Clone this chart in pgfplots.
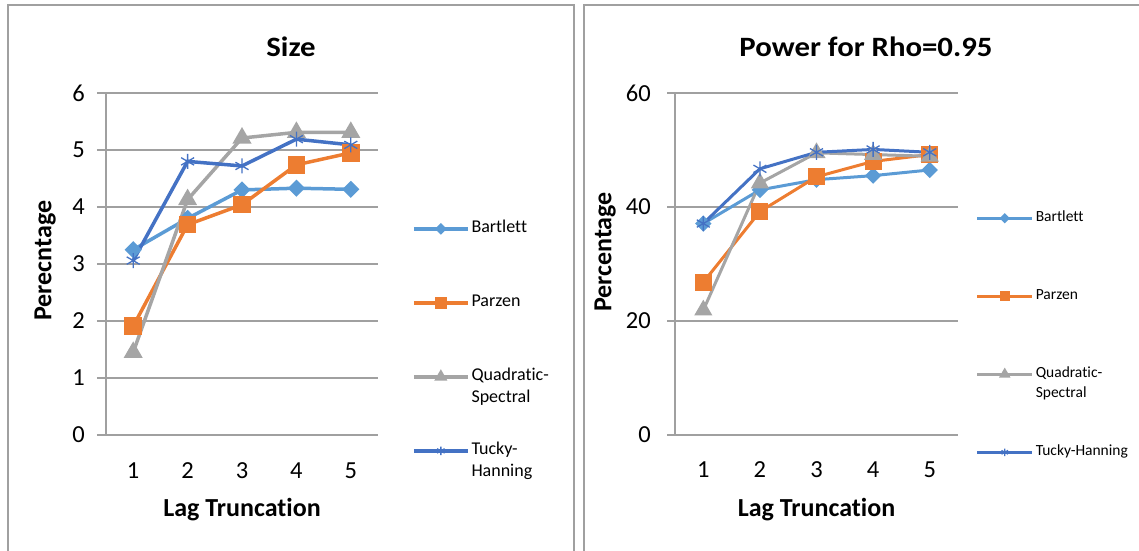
\documentclass[border=0pt]{standalone}
\usepackage{fontspec}
\setmainfont{Carlito}[Ligatures=NoCommon]
\newfontfamily\titlefont{Carlito}[Ligatures=NoCommon, FakeStretch=1.1]
\usepackage{pgfplots}
\usepackage{pgfplotstable}
\pgfplotsset{compat=1.18}
\definecolor{cB}{HTML}{5B9BD5}
\definecolor{cP}{HTML}{ED7D31}
\definecolor{cQ}{HTML}{A5A5A5}
\definecolor{cT}{HTML}{4472C4}
\definecolor{gridc}{HTML}{A0A0A0}
\definecolor{boxc}{HTML}{A0A0A0}

\pgfplotstableread{
x B P Q T
1 3.25 1.91 1.45 3.06
2 3.80 3.69 4.13 4.80
3 4.30 4.04 5.21 4.72
4 4.33 4.74 5.31 5.19
5 4.31 4.95 5.31 5.09
}\sizedata
\pgfplotstableread{
x B P Q T
1 37.1 26.8 21.9 37.1
2 43.0 39.2 44.2 46.7
3 44.8 45.3 49.5 49.6
4 45.5 48.0 49.2 50.1
5 46.5 49.2 48.9 49.6
}\powerdata

\pgfplotsset{
 excel/.style={
  scale only axis, xmin=0.5, xmax=5.5, ymin=0,
  axis x line=bottom, axis y line=left,
  axis line style={-, draw=gridc, line width=1.3pt},
  ymajorgrids, grid style={draw=gridc, line width=1.3pt},
  xtick={1,...,5}, xtick style={draw=none},
  ytick style={draw=gridc, line width=1.3pt},
  tick align=outside, major tick length=9pt,
  /pgf/number format/assume math mode=true,
  tick label style={font=\fontsize{24.5}{29}\selectfont},
  xticklabel style={anchor=center, yshift=-27pt},
  yticklabel style={anchor=east, inner sep=0pt},
  label style={font=\bfseries\fontsize{26}{31}\selectfont},
  legend cell align=left,
  legend style={draw=none, fill=none, inner sep=0pt, column sep=0pt},
 },
 sB/.style={cB, mark=square*, mark size=4.3pt, mark options={solid, fill=cB, rotate=45}},
 sP/.style={cP, mark=square*, mark size=7pt, mark options={solid, fill=cP}},
 sQ/.style={cQ, mark=triangle*, mark size=7.5pt, mark options={solid, fill=cQ}},
 sT/.style={cT, mark=asterisk, mark size=7.5pt, mark options={solid, line width=1.3pt}},
}

\begin{document}
\begin{tikzpicture}[x=1pt,y=1pt]
\path[use as bounding box] (0,0) rectangle (1139,550);
\draw[boxc, line width=1.3pt] (8,-20) -- (8,545) -- (574,545) -- (574,-20);
\draw[boxc, line width=1.3pt] (584,-20) -- (584,545) -- (1160,545);
\node[font=\titlefont\bfseries\fontsize{28}{33}\selectfont] at (291,503) {Size};
\node[font=\titlefont\bfseries\fontsize{28}{33}\selectfont] at (866,503) {Power for Rho=0.95};

\begin{axis}[excel,
  at={(106pt,115pt)}, anchor=south west, width=272pt, height=342pt,
  ymax=6, ytick={0,...,6},
  yticklabel style={xshift=-12pt},
  xlabel={Lag Truncation}, ylabel={Perecntage},
  xlabel style={at={(axis description cs:0.5,-0.219)}, anchor=center},
  ylabel style={at={(axis description cs:-0.224,0.51)}, anchor=center, rotate=0},
  every axis plot/.append style={line width=3.5pt},
  legend image code/.code={\draw[mark repeat=2, mark phase=2, #1, line width=3.3pt, /tikz/every mark/.append style={scale=0.58}] plot coordinates {(0pt,0pt) (27pt,0pt) (54pt,0pt)};},
  legend style={at={(axis description cs:1.125,0.634)}, anchor=north west, row sep=53pt,
    font=\fontsize{18}{22}\selectfont,
    nodes={inner sep=2pt, text height=12pt, text depth=5pt}},
]
\addplot[sB] table[x=x,y=B] {\sizedata};
\addplot[sP] table[x=x,y=P] {\sizedata};
\addplot[sQ] table[x=x,y=Q] {\sizedata};
\addplot[sT] table[x=x,y=T] {\sizedata};
\legend{Bartlett, Parzen, {\begin{tabular}[t]{@{}l@{}}Quadratic-\\Spectral\end{tabular}}, {\begin{tabular}[t]{@{}l@{}}Tucky-\\Hanning\end{tabular}}}
\end{axis}

\begin{axis}[excel,
  at={(675pt,115pt)}, anchor=south west, width=283pt, height=342pt,
  ymax=60, ytick={0,20,40,60}, major tick length=8pt,
  yticklabel style={xshift=-16pt},
  xlabel={Lag Truncation}, ylabel={Percentage},
  xlabel style={at={(axis description cs:0.5,-0.219)}, anchor=center},
  ylabel style={at={(axis description cs:-0.247,0.535)}, anchor=center, rotate=0},
  every axis plot/.append style={line width=3pt},
  legend image code/.code={\draw[mark repeat=2, mark phase=2, #1, line width=3pt, /tikz/every mark/.append style={scale=0.5}] plot coordinates {(0pt,0pt) (27.5pt,0pt) (55pt,0pt)};},
  legend style={at={(axis description cs:1.062,0.662)}, anchor=north west, row sep=59pt,
    font=\fontsize{15.5}{19.5}\selectfont,
    nodes={inner sep=2pt, text height=11pt, text depth=4pt}},
]
\addplot[sB] table[x=x,y=B] {\powerdata};
\addplot[sP] table[x=x,y=P] {\powerdata};
\addplot[sQ] table[x=x,y=Q] {\powerdata};
\addplot[sT] table[x=x,y=T] {\powerdata};
\legend{Bartlett, Parzen, {\begin{tabular}[t]{@{}l@{}}Quadratic-\\Spectral\end{tabular}}, Tucky-Hanning}
\end{axis}
\end{tikzpicture}
\end{document}
